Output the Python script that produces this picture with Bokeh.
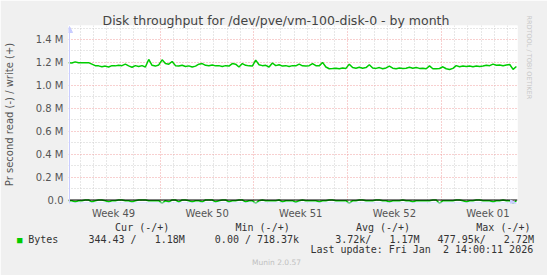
import math
from bokeh.plotting import figure
from bokeh.models import FixedTicker, Span, Arrow, NormalHead, Range1d, Title
from bokeh.embed import file_html
from bokeh.resources import INLINE

# ---------------- data ----------------
# write throughput (+), kB/s, one sample every 6 hours from the left edge
write_k = [
    1197, 1195, 1205, 1197, 1197, 1197, 1198, 1185, 1172, 1170,
    1163, 1168, 1160, 1172, 1170, 1175, 1172, 1185, 1170, 1158,
    1172, 1165, 1172, 1160, 1226, 1175, 1168, 1178, 1223, 1190,
    1185, 1208, 1172, 1168, 1175, 1165, 1170, 1160, 1168, 1185,
    1190, 1175, 1172, 1178, 1170, 1172, 1165, 1172, 1168, 1190,
    1185, 1160, 1190, 1175, 1170, 1168, 1220, 1180, 1172, 1175,
    1160, 1195, 1172, 1180, 1168, 1172, 1165, 1172, 1170, 1185,
    1170, 1168, 1172, 1190, 1172, 1170, 1200, 1160, 1145, 1147,
    1150, 1145, 1152, 1148, 1185, 1155, 1150, 1158, 1150, 1155,
    1180, 1152, 1148, 1155, 1145, 1152, 1168, 1150, 1145, 1152,
    1148, 1150, 1158, 1150, 1155, 1148, 1150, 1145, 1170, 1145,
    1145, 1147, 1162, 1145, 1138, 1148, 1172, 1162, 1168, 1165,
    1168, 1162, 1168, 1165, 1168, 1175, 1172, 1185, 1175, 1178,
    1172, 1178, 1182, 1140, 1165,
]
# read throughput (-), kB/s (drawn negative)
read_k = [
    -6, -6, -16, -6, -6, 0, 0, -16, -6, 0,
    0, -6, -16, -6, -6, 0, 0, -6, -6, -16,
    -6, 0, 0, 0, -6, -6, -6, -6, -30, -6,
    -16, 0, 0, -16, 0, 0, -6, -16, -6, -6,
    -16, 0, 0, 0, -16, -6, 0, 0, -16, -6,
    -6, 0, 0, -16, -6, -6, -30, -6, 0, -6,
    -6, -6, -6, 0, -16, -6, -6, -6, -20, -6,
    0, -6, -6, -6, -6, -16, -6, -6, 0, 0,
    -6, -6, -6, -6, -30, -6, -6, 0, 0, -6,
    -6, -6, 0, 0, -6, -6, -16, -6, -6, -6,
    0, -6, -6, -16, -6, -6, -6, -6, -6, 0,
    0, -30, -6, -6, -6, -6, 0, 0, -6, -16,
    -6, -6, 0, 0, -6, -6, -6, -16, -6, -6,
    0, -6, -6, -30, -6,
]
sample_step_days = 0.25
time_days = [i * sample_step_days for i in range(len(write_k))]

week_labels = ["Week 49", "Week 50", "Week 51", "Week 52", "Week 01"]
week_starts = [-0.13, 6.87, 13.87, 20.87, 27.87]

y_major = [0.0, 0.2, 0.4, 0.6, 0.8, 1.0, 1.2, 1.4]
y_major_labels = ["0.0", "0.2 M", "0.4 M", "0.6 M", "0.8 M", "1.0 M", "1.2 M", "1.4 M"]
y_minor = [0.1, 0.3, 0.5, 0.7, 0.9, 1.1, 1.3, 1.5]

legend_headers = ["Cur (-/+)", "Min (-/+)", "Avg (-/+)", "Max (-/+)"]
legend_values = ["344.43 /   1.18M", "0.00 / 718.37k", "3.72k/   1.17M", "477.95k/   2.72M"]
series_name = "Bytes"
last_update = "Last update: Fri Jan  2 14:00:11 2026"
footer_text = "Munin 2.0.57"
side_text = "RRDTOOL / TOBI OETIKER"

title_text = "Disk throughput for /dev/pve/vm-100-disk-0 - by month"
ylabel_text = "Pr second read (-) / write (+)"

# ---------------- layout ----------------
W, H = 547, 275
FL, FR, FT, FB = 65, 517, 25, 203        # frame edges (px)
PX_PER_DAY = 13.46
ZERO_PY = 199.5
PX_PER_M = 114.64
BG = "#f0f0f0"
GREEN = "#00cc00"
TXT = "#555555"
LEG = "#333333"
NBSP = "\u00a0"


def X(px):
    return (px - FL) / PX_PER_DAY


def Y(py):
    return (ZERO_PY - py) / PX_PER_M


p = figure(width=W, height=H, output_backend="svg", toolbar_location=None,
           x_range=Range1d(X(FL), X(FR)), y_range=Range1d(Y(FB), Y(FT)),
           min_border_left=FL, min_border_right=W - FR,
           min_border_top=FT, min_border_bottom=H - FB,
           background_fill_color="white", border_fill_color=BG,
           outline_line_color=None)

# title
p.title.text = title_text
p.title.text_font = "DejaVu Sans"
p.title.text_font_size = "12.5px"
p.title.text_font_style = "normal"
p.title.text_color = "#444444"
p.title.align = "left"
p.title.offset = 34
p.title.standoff = -4

# side text
p.add_layout(Title(text=side_text, align="left", offset=-10, standoff=14,
                   text_font="DejaVu Sans", text_font_size="6.5px",
                   text_font_style="normal", text_color="#c8c8c8"), "right")

# grids
x_major = [d for d in week_starts if X(FL) < d < X(FR)]
x_minor = [week_starts[0] + k for k in range(40)
           if X(FL) < week_starts[0] + k < X(FR)
           and all(abs(week_starts[0] + k - m) > 0.01 for m in week_starts)]
p.xgrid.ticker = FixedTicker(ticks=x_major, minor_ticks=x_minor)
p.ygrid.ticker = FixedTicker(ticks=y_major, minor_ticks=y_minor)
for g in (p.xgrid[0], p.ygrid[0]):
    g.grid_line_color = "#f0a0a0"
    g.grid_line_dash = "1 2"
    g.grid_line_width = 1
    g.minor_grid_line_color = "#cfcfcf"
    g.minor_grid_line_dash = "1 2"
    g.minor_grid_line_width = 1

# axes
week_mid = [s + 3.5 for s in week_starts]
p.xaxis.ticker = FixedTicker(ticks=week_mid)
p.xaxis.major_label_overrides = {t: l for t, l in zip(week_mid, week_labels)}
p.yaxis.ticker = FixedTicker(ticks=y_major)
p.yaxis.major_label_overrides = {t: l for t, l in zip(y_major, y_major_labels)}
for ax in (p.xaxis[0], p.yaxis[0]):
    ax.axis_line_color = None
    ax.major_tick_line_color = None
    ax.minor_tick_line_color = None
    ax.major_tick_out = 0
    ax.major_tick_in = 0
    ax.major_label_text_font = "DejaVu Sans"
    ax.major_label_text_font_size = "10px"
    ax.major_label_text_color = TXT
    ax.major_label_standoff = 5
p.xaxis.major_label_standoff = 4
p.yaxis.axis_label = ylabel_text
p.yaxis.axis_label_text_font = "DejaVu Sans"
p.yaxis.axis_label_text_font_size = "10px"
p.yaxis.axis_label_text_font_style = "normal"
p.yaxis.axis_label_text_color = TXT
p.yaxis.axis_label_standoff = 18

# data
read_m = [v / 1000.0 for v in read_k]
write_m = [v / 1000.0 for v in write_k]
p.line(time_days, read_m, line_color=GREEN, line_width=1.5)
p.line(time_days, write_m, line_color=GREEN, line_width=1.5)
p.add_layout(Span(location=0, dimension="width", line_color="black", line_width=1))

# axis arrows
AX = "#c8ccff"
p.add_layout(Arrow(end=NormalHead(size=6, fill_color=AX, line_color=AX),
                   x_start=X(66), y_start=Y(203), x_end=X(66), y_end=Y(26),
                   line_color=AX, line_width=1))
p.add_layout(Arrow(end=NormalHead(size=6, fill_color=AX, line_color=AX),
                   x_start=X(63), y_start=Y(202.5), x_end=X(516), y_end=Y(202.5),
                   line_color=AX, line_width=1))

# ---------------- legend rows as stacked titles in the bottom panel ----------------


def row(chunks, cols):
    s = ""
    for txt, c in zip(chunks, cols):
        s += " " * max(0, c - len(s)) + txt
    return s.replace(" ", NBSP)


def add_title(text, align, offset, standoff, color=LEG,
              font="DejaVu Sans Mono", fsize="10px"):
    p.add_layout(Title(text=text, align=align, offset=offset, standoff=standoff,
                       vertical_align="middle", text_font=font,
                       text_font_size=fsize, text_font_style="normal",
                       text_color=color), "below")


H10 = 11.7   # estimated text-box height of 10px text
H9 = 10.5
H75 = 8.8

header_row = row(legend_headers, [0, 20, 40, 60])
value_row = row([series_name] + legend_values, [0, 10, 31, 51, 68])

# slot size = 2 + h + standoff
add_title(header_row, "left", 111.6 - FL, 11.8 - 2 - H10)
add_title(NBSP, "left", 0, 7.7 - 2 - H10, color=BG)                       # spacer
add_title("\u25a0", "left", 13.5 - FL, -2 - H9, color=GREEN, fsize="9px")
add_title(value_row, "left", 24.7 - FL, -2 - H10)
add_title(last_update.replace(" ", NBSP), "right", FR - 532.7, 20.8 - 2 - H10)
add_title(footer_text, "left", 248.5 - FL, 4.4 - 2 - H75, color="#c0c0c0",
          font="DejaVu Sans", fsize="7.5px")

open("out.html", "w").write(file_html(p, INLINE))
